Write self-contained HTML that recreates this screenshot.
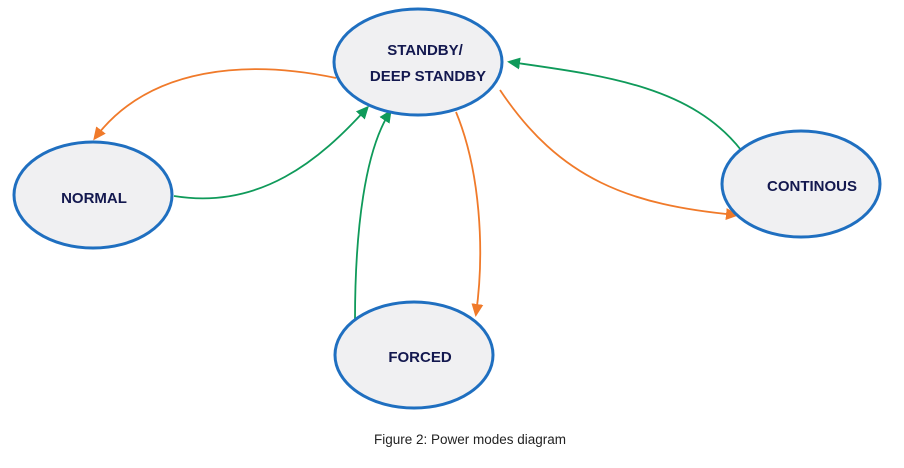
<!DOCTYPE html>
<html><head><style>
html,body{margin:0;padding:0;background:#fff;width:904px;height:468px;overflow:hidden}
</style></head><body>
<svg width="904" height="468" xmlns="http://www.w3.org/2000/svg">
<defs>
<marker id="o" markerWidth="13" markerHeight="12" refX="10" refY="6" orient="auto" markerUnits="userSpaceOnUse"><path d="M0,0 L13,6 L0,12 z" fill="#f07a2a"/></marker>
<marker id="g" markerWidth="13" markerHeight="12" refX="10" refY="6" orient="auto" markerUnits="userSpaceOnUse"><path d="M0,0 L13,6 L0,12 z" fill="#0f9a5a"/></marker>
</defs>
<g fill="none" stroke-width="1.8">
<path d="M336,78 C250,60 150,65 95,138" stroke="#f07a2a" marker-end="url(#o)"/>
<path d="M174,196 C260,210 320,160 367,108" stroke="#0f9a5a" marker-end="url(#g)"/>
<path d="M355,320 C355,230 365,150 390,112" stroke="#0f9a5a" marker-end="url(#g)"/>
<path d="M456,112 C480,170 485,250 476,314" stroke="#f07a2a" marker-end="url(#o)"/>
<path d="M500,90 C560,180 630,205 736,215" stroke="#f07a2a" marker-end="url(#o)"/>
<path d="M741,150 C690,85 600,75 510,62" stroke="#0f9a5a" marker-end="url(#g)"/>
</g>
<g fill="#f0f0f2" stroke="#1f6fc0" stroke-width="3">
<ellipse cx="418" cy="62" rx="84" ry="53"/>
<ellipse cx="93" cy="195" rx="79" ry="53"/>
<ellipse cx="801" cy="184" rx="79" ry="53"/>
<ellipse cx="414" cy="355" rx="79" ry="53"/>
</g>
<g font-family="Liberation Sans, sans-serif" font-weight="bold" font-size="15" fill="#13184f" text-anchor="middle">
<text x="425" y="55">STANDBY/</text>
<text x="428" y="81">DEEP STANDBY</text>
<text x="94" y="203">NORMAL</text>
<text x="812" y="191">CONTINOUS</text>
<text x="420" y="362">FORCED</text>
</g>
<text x="470" y="444" font-family="Liberation Sans, sans-serif" font-size="13.5" fill="#222" text-anchor="middle">Figure 2: Power modes diagram</text>
</svg>
</body></html>
